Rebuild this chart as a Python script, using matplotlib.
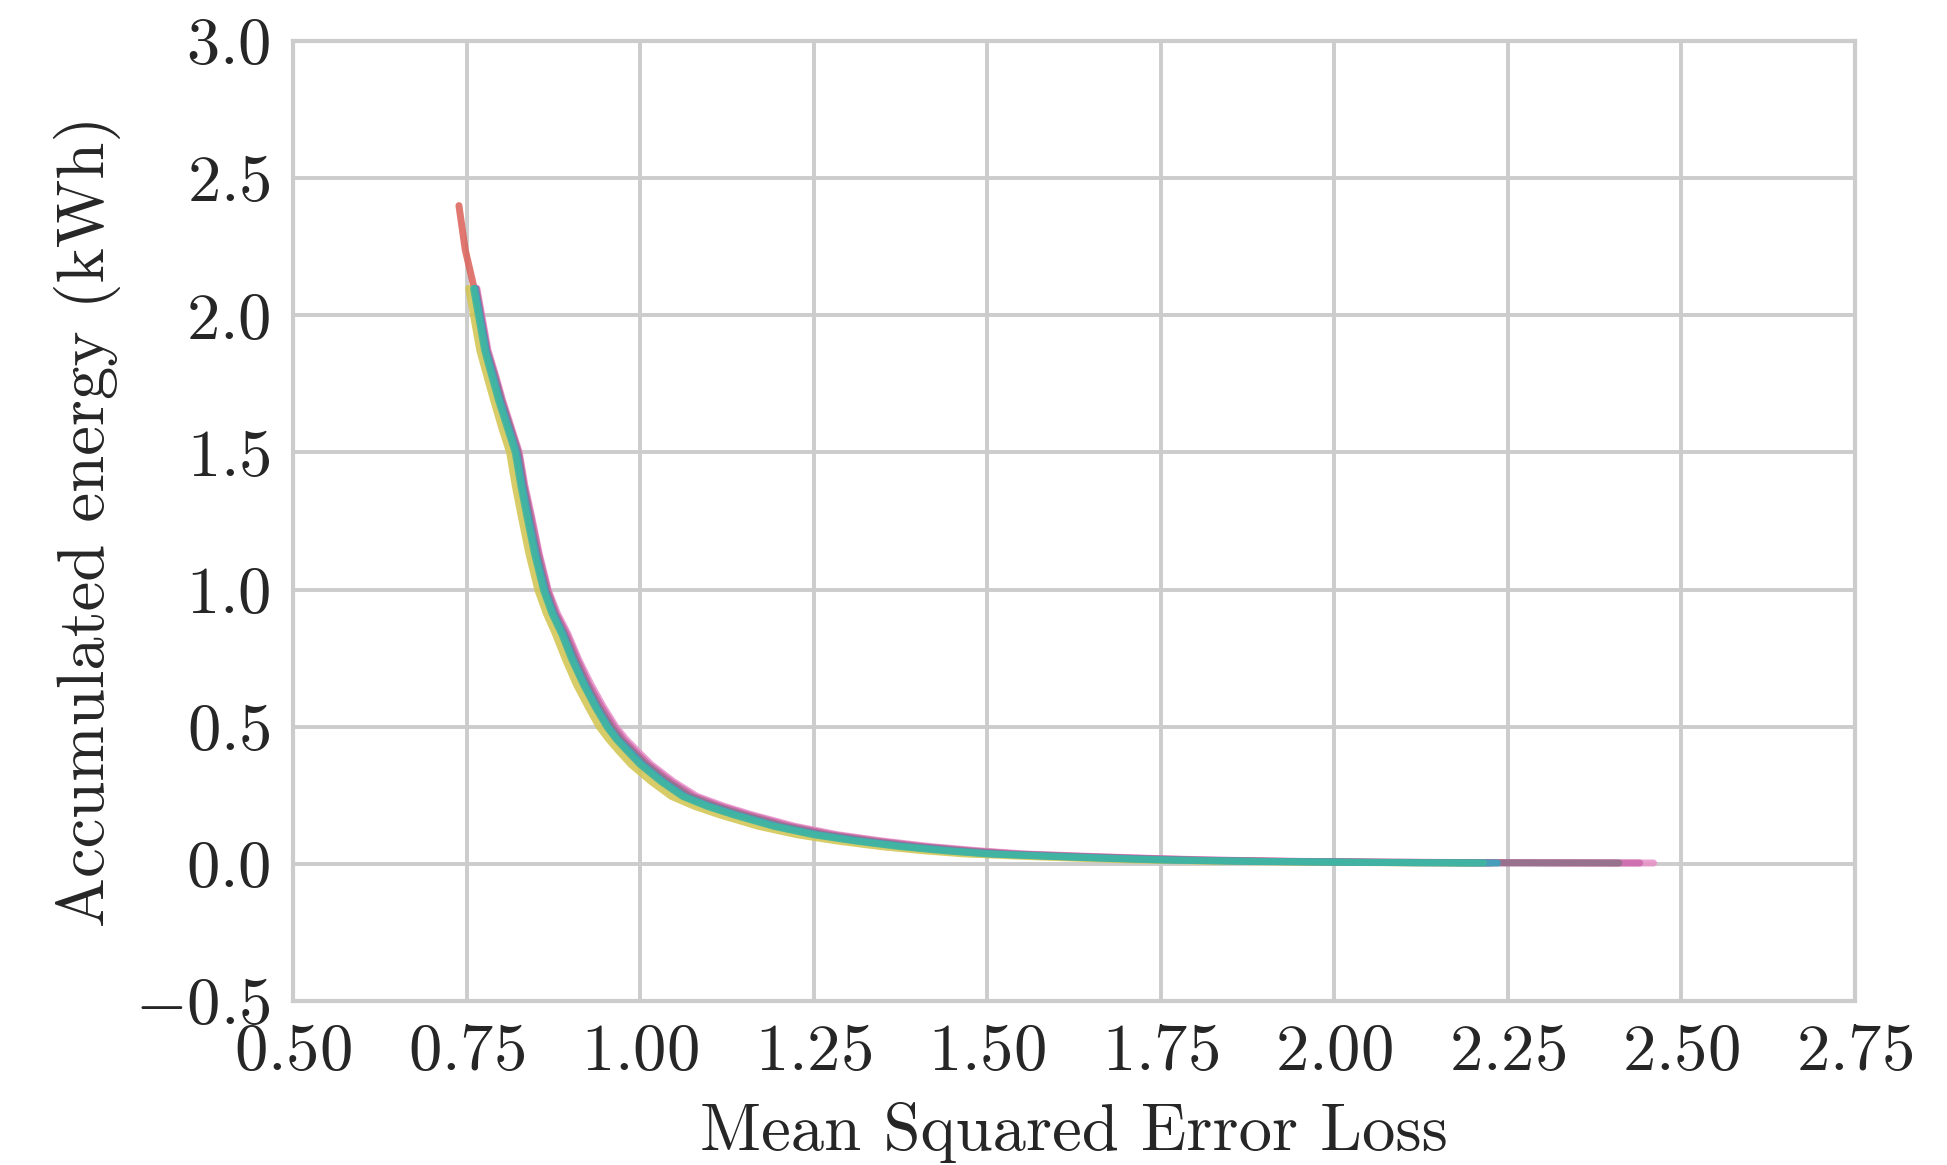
import matplotlib
matplotlib.use("Agg")
import matplotlib.pyplot as plt

# accumulated energy (kWh) logged at the same checkpoints for every run
energy = [2.098, 1.985, 1.872, 1.780, 1.690, 1.595, 1.500, 1.380, 1.264, 1.128,
          0.996, 0.912, 0.838, 0.742, 0.655, 0.573, 0.500, 0.453, 0.412, 0.362,
          0.300, 0.246, 0.210, 0.179, 0.137, 0.106, 0.083, 0.063, 0.048, 0.036,
          0.027, 0.020, 0.014, 0.009, 0.006, 0.004, 0.003]

# MSE loss of each run at those checkpoints
loss_teal = [0.760, 0.768, 0.776, 0.786, 0.796, 0.808, 0.820, 0.828, 0.837, 0.848,
             0.861, 0.873, 0.887, 0.902, 0.918, 0.935, 0.952, 0.966, 0.981, 1.000,
             1.030, 1.061, 1.096, 1.134, 1.192, 1.250, 1.310, 1.374, 1.437, 1.500,
             1.590, 1.670, 1.749, 1.870, 2.000, 2.110, 2.215]
loss_blue = [0.762, 0.770, 0.778, 0.788, 0.798, 0.810, 0.822, 0.830, 0.839, 0.850,
             0.863, 0.875, 0.889, 0.904, 0.920, 0.937, 0.954, 0.968, 0.984, 1.003,
             1.033, 1.064, 1.100, 1.138, 1.197, 1.256, 1.317, 1.382, 1.446, 1.510,
             1.602, 1.684, 1.765, 1.888, 2.020, 2.130, 2.235]
loss_mauve = [0.763, 0.771, 0.779, 0.790, 0.800, 0.812, 0.824, 0.832, 0.841, 0.852,
              0.865, 0.877, 0.891, 0.907, 0.923, 0.940, 0.958, 0.972, 0.988, 1.008,
              1.039, 1.071, 1.108, 1.147, 1.207, 1.267, 1.330, 1.396, 1.462, 1.528,
              1.622, 1.706, 1.790, 1.915, 2.050, 2.200, 2.410]
loss_pink = [0.764, 0.772, 0.780, 0.791, 0.801, 0.813, 0.825, 0.833, 0.843, 0.854,
             0.867, 0.879, 0.894, 0.910, 0.926, 0.944, 0.962, 0.976, 0.992, 1.012,
             1.044, 1.077, 1.115, 1.155, 1.216, 1.277, 1.341, 1.408, 1.475, 1.542,
             1.637, 1.722, 1.808, 1.935, 2.070, 2.230, 2.440]
loss_lightpink = [0.765, 0.773, 0.781, 0.792, 0.802, 0.814, 0.826, 0.834, 0.844, 0.855,
                  0.868, 0.881, 0.896, 0.912, 0.929, 0.947, 0.965, 0.980, 0.996, 1.016,
                  1.048, 1.082, 1.121, 1.161, 1.223, 1.285, 1.350, 1.418, 1.486, 1.554,
                  1.650, 1.736, 1.822, 1.950, 2.085, 2.250, 2.460]
loss_yellow = [0.753, 0.761, 0.769, 0.779, 0.789, 0.800, 0.812, 0.820, 0.829, 0.840,
               0.853, 0.865, 0.878, 0.893, 0.908, 0.925, 0.941, 0.955, 0.969, 0.987,
               1.016, 1.045, 1.078, 1.114, 1.170, 1.226, 1.284, 1.346, 1.406, 1.468,
               1.555, 1.633, 1.710, 1.830, 1.960, 2.080, 2.200]

# the red run was trained longest, two extra checkpoints at the top
energy_red = [2.40, 2.24] + energy
loss_red = [0.739, 0.748,
            0.761, 0.769, 0.777, 0.787, 0.797, 0.809, 0.821, 0.829, 0.838, 0.849,
            0.862, 0.874, 0.888, 0.903, 0.919, 0.936, 0.953, 0.967, 0.982, 1.001,
            1.031, 1.062, 1.098, 1.136, 1.194, 1.253, 1.313, 1.378, 1.441, 1.505,
            1.596, 1.677, 1.757, 1.879, 2.010, 2.120, 2.225]

runs = [
    (loss_red, energy_red, "#db5f57"),
    (loss_yellow, energy, "#d2c44e"),
    (loss_lightpink, energy, "#e890c8"),
    (loss_pink, energy, "#cc6aaa"),
    (loss_mauve, energy, "#8f7189"),
    (loss_blue, energy, "#3aa6c2"),
    (loss_teal, energy, "#3fb7a0"),
]

plt.rcParams["font.family"] = "cmr10"
plt.rcParams["mathtext.fontset"] = "cm"
plt.rcParams["axes.formatter.use_mathtext"] = True

fig = plt.figure(figsize=(19.47, 11.65), dpi=100)
ax = fig.add_axes([0.1505, 0.1408, 0.8022, 0.8240])

for loss, en, color in runs:
    ax.plot(loss, en, color=color, lw=5, alpha=0.85,
            solid_capstyle="round", solid_joinstyle="round")

ax.set_xlim(0.5, 2.75)
ax.set_ylim(-0.5, 3.0)
ax.set_xticks([0.5, 0.75, 1.0, 1.25, 1.5, 1.75, 2.0, 2.25, 2.5, 2.75])
ax.set_yticks([-0.5, 0.0, 0.5, 1.0, 1.5, 2.0, 2.5, 3.0])

ax.grid(True, color="#cccccc", lw=2.8)
ax.set_axisbelow(True)
for sp in ax.spines.values():
    sp.set_color("#cccccc")
    sp.set_linewidth(3)
ax.tick_params(length=0, pad=16, colors="#262626", labelsize=48)

ax.set_xlabel("Mean Squared Error Loss", color="#262626", fontsize=48, labelpad=14)
ax.set_ylabel("Accumulated energy (kWh)", color="#262626", fontsize=48, labelpad=10)

fig.savefig("out.png", dpi=100, facecolor="white")
